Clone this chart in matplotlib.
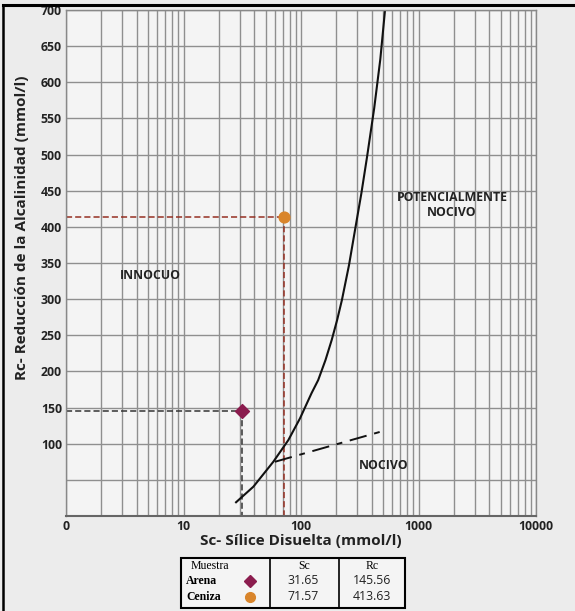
import matplotlib.pyplot as plt
import numpy as np
from matplotlib.lines import Line2D
from matplotlib.patches import Rectangle

# boundary curve (Sc, Rc)
curve_sc = [28.0, 39.3, 58.1, 78, 98, 123, 140, 161.6, 182.5, 202.9, 222.9,
            256.2, 288.1, 326.1, 364.6, 419.8, 473.2, 518.8]
curve_rc = [19, 40.5, 75, 105, 135, 170, 188, 215.8, 243.5, 271.1, 298.8,
            347.2, 395.6, 446.1, 496.6, 564.4, 632.2, 700]

# dash-dot divider between nocivo / potencialmente nocivo
div_sc = [60, 536]
div_rc = [75, 119]

muestras = ["Arena", "Ceniza"]
sc_vals = [31.65, 71.57]
rc_vals = [145.56, 413.63]
colores = ["#8b1c4e", "#d9852b"]
guia = ["#333333", "#952f22"]
markers = ["D", "o"]

x_ticks = [1, 10, 100, 1000, 10000]
x_labels = ["0", "10", "100", "1000", "10000"]
y_ticks = list(range(100, 701, 50))

sans = "Open Sans"
serif = "Liberation Serif"

fig = plt.figure(figsize=(5.75, 6.11), dpi=100, facecolor="#ececec")
ax = fig.add_axes([0.1148, 0.1555, 0.8174, 0.8281])
ax.set_facecolor("#f4f4f4")

ax.set_xscale("log")
ax.set_xlim(1, 10000)
ax.set_ylim(0, 700)
ax.set_yticks(range(0, 701, 50))
ax.set_yticklabels(["", ""] + [str(v) for v in y_ticks])
ax.set_xticks(x_ticks)
ax.set_xticklabels(x_labels)
ax.grid(True, which="both", color="#8f8f8f", lw=1.0)
ax.set_axisbelow(True)
ax.tick_params(axis="both", which="both", length=0, pad=3)
for lab in ax.get_xticklabels() + ax.get_yticklabels():
    lab.set_fontfamily(sans)
    lab.set_fontweight("bold")
    lab.set_fontsize(8.8)
    lab.set_color("#222222")
for s in ax.spines.values():
    s.set_color("#888888")
    s.set_linewidth(1.0)
ax.spines["bottom"].set_color("#666666")
ax.spines["bottom"].set_linewidth(1.5)

# guide lines to each sample
for sc, rc, c in zip(sc_vals, rc_vals, guia):
    ax.plot([1, sc], [rc, rc], ls=(0, (4, 2)), color=c, lw=1.1)
    ax.plot([sc, sc], [rc, 0], ls=(0, (4, 2)), color=c, lw=1.1)

ax.plot(curve_sc, curve_rc, color="#111111", lw=1.5)
ax.plot(div_sc, div_rc, color="#111111", lw=1.4, ls=(0, (9, 4, 3, 4)))

for sc, rc, c, m in zip(sc_vals, rc_vals, colores, markers):
    ax.scatter(sc, rc, s=60 if m == "o" else 50, marker=m, color=c, zorder=5)

ax.text(5.2, 333, "INNOCUO", fontfamily=sans, fontweight="bold", fontsize=8.8,
        ha="center", va="center", color="#222222")
ax.text(1930, 430, "POTENCIALMENTE\nNOCIVO", fontfamily=sans, fontweight="bold",
        fontsize=8.8, ha="center", va="center", color="#222222", linespacing=1.2)
ax.text(509, 70, "NOCIVO", fontfamily=sans, fontweight="bold", fontsize=8.8,
        ha="center", va="center", color="#222222")

ax.set_xlabel("Sc- Sílice Disuelta (mmol/l)", fontfamily=sans, fontweight="bold",
              fontsize=11, labelpad=0.5, color="#222222")
ax.set_ylabel("Rc- Reducción de la Alcalinidad (mmol/l)", fontfamily=sans,
              fontweight="bold", fontsize=11, color="#222222")
ax.yaxis.set_label_coords(-0.079, 0.569)

# figure border (top and left)
fig.add_artist(Line2D([0.005, 1.0], [1 - 5 / 611, 1 - 5 / 611], color="black", lw=2.2,
                      transform=fig.transFigure))
fig.add_artist(Line2D([0.005, 0.005], [0, 1 - 5 / 611], color="black", lw=1.8,
                      transform=fig.transFigure))

# small table below the chart
W, H = 575.0, 611.0
tx0, tx1, ty0, ty1 = 181, 405, 558, 608
fig.add_artist(Rectangle((tx0 / W, 1 - ty1 / H), (tx1 - tx0) / W, (ty1 - ty0) / H,
                         transform=fig.transFigure, facecolor="#f4f4f4",
                         edgecolor="black", lw=1.5))
for cx in [270, 339]:
    fig.add_artist(Line2D([cx / W, cx / W], [1 - ty1 / H, 1 - ty0 / H], color="black",
                          lw=1.2, transform=fig.transFigure))

fig.text(210 / W, 1 - 566 / H, "Muestra", family=serif, fontsize=8.5, ha="center", va="center")
fig.text(304 / W, 1 - 566 / H, "Sc", family=serif, fontsize=8.5, ha="center", va="center")
fig.text(372 / W, 1 - 566 / H, "Rc", family=serif, fontsize=8.5, ha="center", va="center")
row_y = [581, 597]
for i, name in enumerate(muestras):
    yy = 1 - row_y[i] / H
    fig.text(186 / W, yy, name, family=serif, fontweight="bold", fontsize=8.5,
             ha="left", va="center")
    fig.add_artist(Line2D([250 / W], [yy], marker=markers[i], color=colores[i],
                          markersize=7 if markers[i] == "o" else 6, ls="none",
                          transform=fig.transFigure))
    fig.text(303 / W, yy, f"{sc_vals[i]:.2f}", family=sans, fontsize=8.8,
             ha="center", va="center", color="#222222")
    fig.text(372 / W, yy, f"{rc_vals[i]:.2f}", family=sans, fontsize=8.8,
             ha="center", va="center", color="#222222")

fig.savefig("out.png", dpi=100, facecolor=fig.get_facecolor())
